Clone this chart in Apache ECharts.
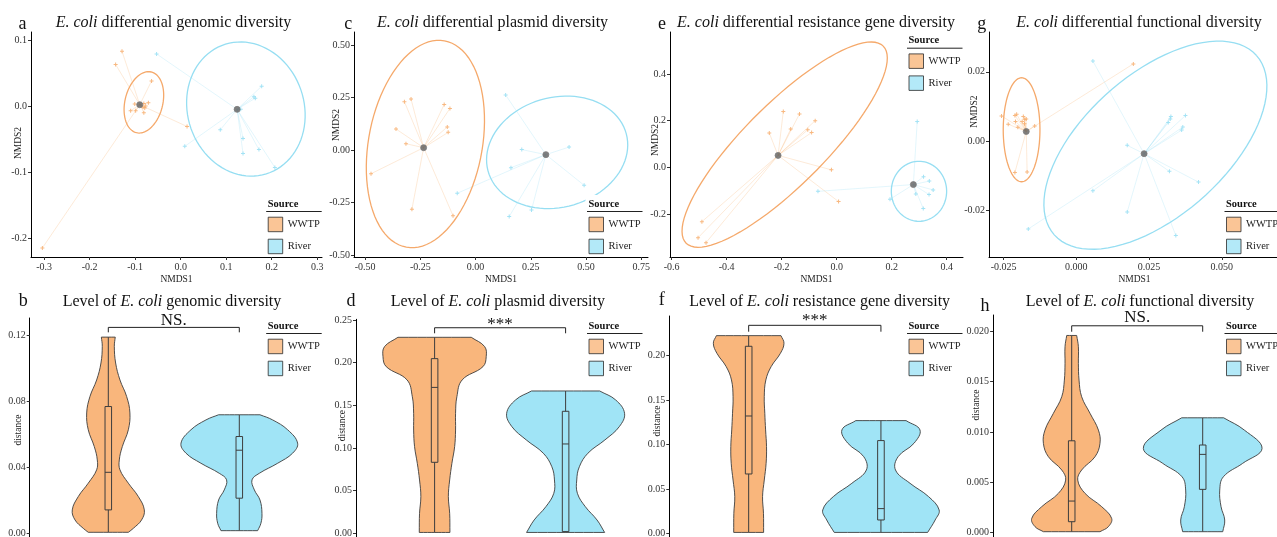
<!DOCTYPE html>
<html>
<head>
<meta charset="utf-8">
<title>E. coli diversity</title>
<script src="https://cdn.jsdelivr.net/npm/echarts@6/dist/echarts.min.js"></script>
<style>
html, body { margin: 0; padding: 0; background: #fff; }
#chart { width: 1277px; height: 537px; }
</style>
</head>
<body>
<div id="chart"></div>
<script>
// groups
const groups = ['WWTP', 'River'];

// a - genomic NMDS
const genomicWwtp = [[-0.129, 0.084], [-0.143, 0.064], [-0.064, 0.039], [-0.101, 0.004], [-0.081, 0.005], [-0.071, 0.006], [-0.077, 0.001], [-0.083, -0.001], [-0.079, -0.002], [-0.110, -0.006], [-0.099, -0.006], [-0.081, -0.009], [0.014, -0.030], [-0.304, -0.214]];
const genomicRiver = [[-0.053, 0.080], [0.178, 0.031], [0.161, 0.015], [0.164, 0.013], [0.132, -0.004], [0.087, -0.035], [0.009, -0.060], [0.137, -0.048], [0.137, -0.071], [0.172, -0.065], [0.207, -0.092]];
const genomicCentroids = [[-0.090, 0.003], [0.124, -0.004]];
// ellipse: centre x, centre y, conjugate semi-axis a (x, y), semi-axis b (x, y)
const genomicEllipses = [[-0.0809, 0.0066, 0.0162, 0.046, 0.0404, -0.0066], [0.1433, -0.0035, -0.0184, 0.1015, 0.129, 0.005]];
const genomicXTicks = ['-0.3', '-0.2', '-0.1', '0.0', '0.1', '0.2', '0.3'];
const genomicYTicks = ['-0.2', '-0.1', '0.0', '0.1'];

// c - plasmid NMDS
const plasmidWwtp = [[-0.322, 0.230], [-0.292, 0.243], [-0.142, 0.217], [-0.116, 0.198], [-0.360, 0.100], [-0.128, 0.110], [-0.124, 0.084], [-0.315, 0.030], [-0.473, -0.113], [-0.288, -0.282], [-0.102, -0.313]];
const plasmidRiver = [[0.136, 0.262], [0.209, 0.002], [0.423, 0.014], [0.160, -0.084], [0.491, -0.168], [-0.083, -0.206], [0.253, -0.286], [0.152, -0.317]];
const plasmidCentroids = [[-0.235, 0.011], [0.318, -0.022]];
const plasmidEllipses = [[-0.227, 0.0286, 0.0864, 0.4915, 0.253, -0.0492], [0.369, -0.0111, 0.3128, 0.0882, 0.0643, -0.253]];
const plasmidXTicks = ['-0.50', '-0.25', '0.00', '0.25', '0.50', '0.75'];
const plasmidYTicks = ['-0.50', '-0.25', '0.00', '0.25', '0.50'];

// e - resistance gene NMDS
const resistanceWwtp = [[-0.194, 0.239], [-0.135, 0.229], [-0.078, 0.200], [-0.245, 0.147], [-0.167, 0.164], [-0.105, 0.161], [-0.091, 0.149], [-0.019, -0.011], [0.007, -0.147], [-0.490, -0.233], [-0.504, -0.302], [-0.475, -0.323]];
const resistanceRiver = [[0.293, 0.196], [0.316, -0.040], [0.337, -0.059], [0.351, -0.097], [0.288, -0.114], [0.336, -0.117], [0.315, -0.177], [0.194, -0.137], [-0.068, -0.103]];
const resistanceCentroids = [[-0.213, 0.051], [0.279, -0.074]];
const resistanceEllipses = [[-0.189, 0.0972, 0.3583, 0.4224, 0.1046, -0.1233], [0.2994, -0.1029, 0, 0.1286, 0.1006, 0]];
const resistanceXTicks = ['-0.6', '-0.4', '-0.2', '0.0', '0.2', '0.4'];
const resistanceYTicks = ['-0.2', '0.0', '0.2', '0.4'];

// g - functional NMDS
const functionalWwtp = [[-0.0257, 0.0073], [-0.0234, 0.0049], [-0.0211, 0.0074], [-0.0205, 0.0078], [-0.0209, 0.0057], [-0.0182, 0.0071], [-0.0177, 0.0063], [-0.0172, 0.0064], [-0.0186, 0.0057], [-0.0178, 0.0050], [-0.0201, 0.0040], [-0.0143, 0.0044], [-0.0211, -0.0090], [-0.0169, -0.0089], [0.0196, 0.0223]];
const functionalRiver = [[0.0057, 0.0231], [0.0325, 0.0071], [0.0323, 0.0064], [0.0316, 0.0054], [0.0375, 0.0074], [0.0366, 0.0041], [0.0362, 0.0032], [0.0175, -0.0012], [0.0320, -0.0087], [0.0420, -0.0118], [0.0057, -0.0143], [0.0175, -0.0204], [0.0342, -0.0272], [-0.0165, -0.0253]];
const functionalCentroids = [[-0.0172, 0.0028], [0.0233, -0.0036]];
const functionalEllipses = [[-0.0188, 0.0033, 0, 0.015, 0.00631, 0], [0.02718, -0.00115, 0.03475, 0.02586, 0.01615, -0.01525]];
const functionalXTicks = ['-0.025', '0.000', '0.025', '0.050'];
const functionalYTicks = ['-0.02', '0.00', '0.02'];

// violins: [distance, half width in category units], top to bottom
const genomicViolins = [
    [[0.119, 0.053], [0.1134, 0.046], [0.1033, 0.056], [0.093, 0.089], [0.083, 0.140], [0.073, 0.165], [0.0628, 0.153], [0.0526, 0.107], [0.0445, 0.084], [0.0385, 0.089], [0.0304, 0.153], [0.0223, 0.229], [0.0142, 0.275], [0.0081, 0.254], [0.003, 0.191], [0.0006, 0.153]],
    [[0.0719, 0.158], [0.0688, 0.254], [0.0628, 0.369], [0.0547, 0.445], [0.0486, 0.407], [0.0425, 0.293], [0.0364, 0.153], [0.0324, 0.097], [0.0263, 0.115], [0.0202, 0.158], [0.0121, 0.173], [0.0061, 0.165], [0.0016, 0.14]]
];
// box: min, q1, median, q3, max
const genomicBoxes = [[0.0006, 0.0142, 0.037, 0.0769, 0.119], [0.0016, 0.0213, 0.0504, 0.0587, 0.0719]];
const genomicBracket = [0.1219, 0.1249, 'NS.'];
const genomicDistTicks = ['0.00', '0.04', '0.08', '0.12'];

const plasmidViolins = [
    [[0.2297, 0.28], [0.2188, 0.382], [0.207, 0.394], [0.1953, 0.369], [0.1797, 0.21], [0.160, 0.17], [0.1406, 0.160], [0.121, 0.160], [0.1016, 0.153], [0.082, 0.132], [0.0625, 0.115], [0.043, 0.105], [0.0234, 0.115], [0.001, 0.117]],
    [[0.1668, 0.26], [0.1563, 0.382], [0.1406, 0.45], [0.125, 0.41], [0.1094, 0.30], [0.0938, 0.17], [0.078, 0.105], [0.0625, 0.085], [0.0469, 0.09], [0.0313, 0.15], [0.0156, 0.24], [0.001, 0.298]]
];
const plasmidBoxes = [[0.001, 0.0832, 0.171, 0.2047, 0.2297], [0.001, 0.002, 0.1047, 0.143, 0.1668]];
const plasmidBracket = [0.2344, 0.2409, '***'];
const plasmidDistTicks = ['0.00', '0.05', '0.10', '0.15', '0.20', '0.25'];

const resistanceViolins = [
    [[0.2226, 0.244], [0.214, 0.267], [0.2027, 0.24], [0.1877, 0.17], [0.1727, 0.13], [0.1539, 0.118], [0.1351, 0.122], [0.1164, 0.128], [0.0976, 0.135], [0.0788, 0.132], [0.06, 0.118], [0.0413, 0.105], [0.0225, 0.112], [0.001, 0.113]],
    [[0.1269, 0.19], [0.1164, 0.295], [0.1014, 0.25], [0.0863, 0.13], [0.0713, 0.11], [0.0563, 0.22], [0.0413, 0.36], [0.0263, 0.44], [0.015, 0.41], [0.001, 0.353]]
];
const resistanceBoxes = [[0.001, 0.0668, 0.1321, 0.2106, 0.2226], [0.001, 0.015, 0.0278, 0.1044, 0.1269]];
const resistanceBracket = [0.227, 0.2342, '***'];
const resistanceDistTicks = ['0.00', '0.05', '0.10', '0.15', '0.20'];

const functionalViolins = [
    [[0.01957, 0.038], [0.01845, 0.051], [0.0168, 0.051], [0.01514, 0.056], [0.01349, 0.076], [0.01184, 0.14], [0.01018, 0.204], [0.00886, 0.216], [0.00754, 0.178], [0.00622, 0.076], [0.00522, 0.046], [0.0039, 0.102], [0.00258, 0.229], [0.00142, 0.305], [0.0006, 0.28], [0.0001, 0.216]],
    [[0.0114, 0.16], [0.01018, 0.318], [0.00836, 0.453], [0.00688, 0.305], [0.00555, 0.158], [0.00423, 0.13], [0.00258, 0.14], [0.00126, 0.168], [0.0001, 0.153]]
];
const functionalBoxes = [[0.0001, 0.00109, 0.00314, 0.00912, 0.01957], [0.0001, 0.0043, 0.00777, 0.0087, 0.0114]];
const functionalBracket = [0.01994, 0.02053, 'NS.'];
const functionalDistTicks = ['0.000', '0.005', '0.010', '0.015', '0.020'];

// styles
const serif = "'Liberation Serif', 'Times New Roman', serif";
const fills = ['#F9B67C', '#A0E4F6'];
const pointColors = ['#F6A863', '#8FDCF2'];
const ellipseColors = ['#F5A96B', '#96DEF2'];
const plusSymbol = 'path://M3,0h2v3h3v2h-3v3h-2v-3h-3v-2h3z';

const nmdsPanels = [
    {letter: 'a', topic: 'genomic', pts: [genomicWwtp, genomicRiver], cen: genomicCentroids, ell: genomicEllipses,
        xr: [-0.329, 0.3106], yr: [-0.2277, 0.1132], xt: genomicXTicks, yt: genomicYTicks,
        box: [31, 32, 291, 225], yName: [18.3, 143], letterX: 22.5, titleX: 173.5, legend: [267.7, 204]},
    {letter: 'c', topic: 'plasmid', pts: [plasmidWwtp, plasmidRiver], cen: plasmidCentroids, ell: plasmidEllipses,
        xr: [-0.55, 0.78], yr: [-0.5095, 0.562], xt: plasmidXTicks, yt: plasmidYTicks,
        box: [354, 32, 294, 225], yName: [336, 125], letterX: 348.3, titleX: 492.5, legend: [588.5, 204]},
    {letter: 'e', topic: 'resistance gene', pts: [resistanceWwtp, resistanceRiver], cen: resistanceCentroids, ell: resistanceEllipses,
        xr: [-0.606, 0.4595], yr: [-0.3845, 0.58], xt: resistanceXTicks, yt: resistanceYTicks,
        box: [670, 32, 293, 225], yName: [655, 140], letterX: 662, titleX: 816, legend: [908.5, 40.7]},
    {letter: 'g', topic: 'functional', pts: [functionalWwtp, functionalRiver], cen: functionalCentroids, ell: functionalEllipses,
        xr: [-0.030, 0.070], yr: [-0.0334, 0.0315], xt: functionalXTicks, yt: functionalYTicks,
        box: [989, 32, 291, 225], yName: [974, 111.6], letterX: 981.7, titleX: 1139, legend: [1226, 204]}
];

const violinPanels = [
    {letter: 'b', topic: 'genomic', prof: genomicViolins, boxes: genomicBoxes, bracket: genomicBracket, yt: genomicDistTicks,
        ymax: 0.1306, box: [29.7, 318, 288.2, 215.3], yName: [18.3, 430], letterX: 23.3, letterY: 301.3, titleX: 172, labelOffset: 7, legend: [267.7, 326]},
    {letter: 'd', topic: 'plasmid', prof: plasmidViolins, boxes: plasmidBoxes, bracket: plasmidBracket, yt: plasmidDistTicks,
        ymax: 0.2508, box: [356, 319.3, 288.2, 214], yName: [342.7, 425.7], letterX: 351, letterY: 301.7, titleX: 497.8, labelOffset: 3, legend: [588.5, 326]},
    {letter: 'f', topic: 'resistance gene', prof: resistanceViolins, boxes: resistanceBoxes, bracket: resistanceBracket, yt: resistanceDistTicks,
        ymax: 0.2447, box: [669.3, 316, 291, 217.3], yName: [657.3, 421], letterX: 661.7, letterY: 300.7, titleX: 819.7, labelOffset: 4.6, legend: [908.5, 326]},
    {letter: 'h', topic: 'functional', prof: functionalViolins, boxes: functionalBoxes, bracket: functionalBracket, yt: functionalDistTicks,
        ymax: 0.0216, box: [993.1, 315, 288.2, 217.7], yName: [976.7, 405], letterX: 985, letterY: 306.3, titleX: 1140, labelOffset: 8.3, legend: [1226, 326]}
];

// axis lines of the lower row run past the bottom edge of the picture
const bottomOverhang = 8;

function tickAxis(gridIndex, range, ticks, extra) {
    const values = ticks.map(Number);
    return Object.assign({
        type: 'value',
        gridIndex: gridIndex,
        min: range[0],
        max: range[1],
        nameMoveOverlap: false,
        axisLine: {show: true, onZero: false, lineStyle: {color: '#000', width: 1}},
        axisTick: {show: true, length: 3, customValues: values, lineStyle: {color: '#333'}},
        axisLabel: {
            customValues: values,
            formatter: v => ticks[values.findIndex(t => Math.abs(t - v) < 1e-9)] || '',
            fontFamily: serif, fontSize: 10, color: '#333', margin: 4
        },
        splitLine: {show: false}
    }, extra || {});
}

function ellipseItem(ellipses) {
    return function (params, api) {
        const e = ellipses[params.dataIndex];
        const pts = [];
        for (let k = 0; k <= 90; k++) {
            const t = k / 90 * Math.PI * 2;
            pts.push(api.coord([e[0] + e[2] * Math.cos(t) + e[4] * Math.sin(t), e[1] + e[3] * Math.cos(t) + e[5] * Math.sin(t)]));
        }
        return {type: 'polyline', shape: {points: pts}, style: {stroke: ellipseColors[params.dataIndex], fill: 'none', lineWidth: 1.3}};
    };
}

function spiderItem(centroid, color) {
    return function (params, api) {
        const p = api.coord([api.value(0), api.value(1)]);
        const c = api.coord(centroid);
        return {type: 'line', shape: {x1: p[0], y1: p[1], x2: c[0], y2: c[1]}, style: {stroke: color, lineWidth: 0.9, opacity: 0.28}};
    };
}

function violinItem(profiles, boxes) {
    return function (params, api) {
        const i = params.dataIndex;
        const c = i + 1;
        const prof = profiles[i];
        const right = [];
        const left = [];
        prof.forEach(function (d, k) {
            const r = api.coord([c + d[1], d[0]]);
            const l = api.coord([c - d[1], d[0]]);
            right.push(r);
            left.unshift(l);
            // doubled corner points keep the flat ends straight
            if (k === 0 || k === prof.length - 1) {
                right.push(r);
                left.unshift(l);
            }
        });
        const b = boxes[i];
        const w = 0.025;
        const tl = api.coord([c - w, b[3]]);
        const br = api.coord([c + w, b[1]]);
        const line = (p, q) => ({type: 'line', shape: {x1: p[0], y1: p[1], x2: q[0], y2: q[1]}, style: {stroke: '#3d3d3d', lineWidth: 1}});
        return {
            type: 'group',
            children: [
                {type: 'polygon', shape: {points: right.concat(left), smooth: 0.4}, style: {fill: fills[i], stroke: '#3d3d3d', lineWidth: 0.9}},
                line(api.coord([c, b[4]]), api.coord([c, b[3]])),
                line(api.coord([c, b[1]]), api.coord([c, b[0]])),
                {type: 'rect', shape: {x: tl[0], y: tl[1], width: br[0] - tl[0], height: br[1] - tl[1]}, style: {fill: 'none', stroke: '#3d3d3d', lineWidth: 1}},
                line(api.coord([c - w, b[2]]), api.coord([c + w, b[2]]))
            ]
        };
    };
}

function bracketItem(bracket, offset) {
    return function (params, api) {
        const pts = [api.coord([1, bracket[0]]), api.coord([1, bracket[1]]), api.coord([2, bracket[1]]), api.coord([2, bracket[0]])];
        const mid = api.coord([1.5, bracket[1]]);
        return {
            type: 'group',
            children: [
                {type: 'polyline', shape: {points: pts}, style: {stroke: '#222', fill: 'none', lineWidth: 1}},
                {type: 'text', x: mid[0], y: mid[1] - offset, style: {text: bracket[2], fontFamily: serif, fontSize: 17, fill: '#111', align: 'center', verticalAlign: 'middle', textAlign: 'center', textVerticalAlign: 'middle'}}
            ]
        };
    };
}

function textEl(x, y, text, size, extra) {
    return {
        type: 'text', x: x, y: y, z: 5,
        style: Object.assign({text: text, fontFamily: serif, fontSize: size, fill: '#111', align: 'center', verticalAlign: 'middle', textAlign: 'center', textVerticalAlign: 'middle'}, extra || {})
    };
}

function yNameEl(pos, text) {
    const el = textEl(pos[0], pos[1], text, 9.5, {fill: '#222'});
    el.rotation = Math.PI / 2;
    return el;
}

function richTitle(x, y, prefix, topic) {
    const base = {fontFamily: serif, fontSize: 16, fill: '#111'};
    const text = prefix ? '{n|Level of }{i|E. coli}{n| ' + topic + ' diversity}' : '{i|E. coli}{n| differential ' + topic + ' diversity}';
    return textEl(x, y, text, 16, {rich: {i: Object.assign({fontStyle: 'italic'}, base), n: base}});
}

function legendParts(pos) {
    const x = pos[0];
    const y = pos[1];
    return {
        legend: {
            data: [{name: 'WWTP', itemStyle: {color: fills[0]}}, {name: 'River', itemStyle: {color: fills[1]}}],
            left: x, top: y + 12.7, orient: 'vertical', icon: 'rect', itemWidth: 14.5, itemHeight: 14.5, itemGap: 6.5,
            padding: 0, selectedMode: false, z: 6,
            itemStyle: {borderColor: '#2b2b2b', borderWidth: 1},
            textStyle: {fontFamily: serif, fontSize: 10.5, color: '#222'}
        },
        graphics: [
            {type: 'rect', z: 4, shape: {x: x - 3, y: y - 9, width: 57, height: 58}, style: {fill: '#fff'}},
            textEl(x, y, 'Source', 10.5, {fontWeight: 'bold', align: 'left', textAlign: 'left'}),
            {type: 'line', z: 5, shape: {x1: x - 1.5, y1: y + 7.5, x2: x + 54, y2: y + 7.5}, style: {stroke: '#222', lineWidth: 1}}
        ]
    };
}

const grid = [];
const xAxis = [];
const yAxis = [];
const series = [];
const legend = [];
const graphic = [];

nmdsPanels.forEach(function (p, gi) {
    grid.push({left: p.box[0], top: p.box[1], width: p.box[2], height: p.box[3], outerBoundsMode: 'none'});
    const xa = tickAxis(gi, p.xr, p.xt, {
        name: 'NMDS1', nameLocation: 'middle', nameGap: 17.5,
        nameTextStyle: {fontFamily: serif, fontSize: 9.5, color: '#222'}
    });
    xa.axisLabel.margin = 5;
    xAxis.push(xa);
    yAxis.push(tickAxis(gi, p.yr, p.yt));
    groups.forEach(function (g, k) {
        series.push({
            type: 'custom', xAxisIndex: gi, yAxisIndex: gi, clip: false, z: 1,
            renderItem: spiderItem(p.cen[k], pointColors[k]),
            data: p.pts[k]
        });
    });
    series.push({
        type: 'custom', xAxisIndex: gi, yAxisIndex: gi, clip: false, z: 2,
        renderItem: ellipseItem(p.ell),
        data: p.ell.map(e => [e[0], e[1]])
    });
    groups.forEach(function (g, k) {
        series.push({
            type: 'scatter', name: g, xAxisIndex: gi, yAxisIndex: gi, z: 3,
            symbol: plusSymbol, symbolSize: 4,
            itemStyle: {color: pointColors[k]},
            data: p.pts[k]
        });
    });
    series.push({
        type: 'scatter', xAxisIndex: gi, yAxisIndex: gi, z: 3,
        symbol: 'circle', symbolSize: 6,
        itemStyle: {color: '#5f5f5f', borderColor: '#7c7c7c', borderWidth: 1},
        data: p.cen
    });
    graphic.push(yNameEl(p.yName, 'NMDS2'));
    graphic.push(textEl(p.letterX, 24, p.letter, 18));
    graphic.push(richTitle(p.titleX, 23, false, p.topic));
    const lg = legendParts(p.legend);
    legend.push(lg.legend);
    lg.graphics.forEach(el => graphic.push(el));
});

violinPanels.forEach(function (p, vi) {
    const gi = vi + 4;
    const yMin = -bottomOverhang * p.ymax / p.box[3];
    grid.push({left: p.box[0], top: p.box[1], width: p.box[2], height: p.box[3] + bottomOverhang, outerBoundsMode: 'none'});
    xAxis.push({type: 'value', gridIndex: gi, min: 0.4, max: 2.6, show: false});
    yAxis.push(tickAxis(gi, [yMin, p.ymax], p.yt));
    series.push({
        type: 'custom', xAxisIndex: gi, yAxisIndex: gi, clip: false, z: 2,
        renderItem: violinItem(p.prof, p.boxes),
        data: p.boxes.map((b, k) => [k + 1, b[2]])
    });
    series.push({
        type: 'custom', xAxisIndex: gi, yAxisIndex: gi, clip: false, z: 3,
        renderItem: bracketItem(p.bracket, p.labelOffset),
        data: [[1.5, p.bracket[1]]]
    });
    graphic.push(yNameEl(p.yName, 'distance'));
    graphic.push(textEl(p.letterX, p.letterY, p.letter, 18));
    graphic.push(richTitle(p.titleX, 301.4, true, p.topic));
    const lg = legendParts(p.legend);
    legend.push(lg.legend);
    lg.graphics.forEach(el => graphic.push(el));
});

const chart = echarts.init(document.getElementById('chart'), null, {renderer: 'canvas'});
chart.setOption({
    animation: false,
    backgroundColor: '#fff',
    grid: grid,
    xAxis: xAxis,
    yAxis: yAxis,
    legend: legend,
    graphic: graphic,
    series: series
});
</script>
</body>
</html>
